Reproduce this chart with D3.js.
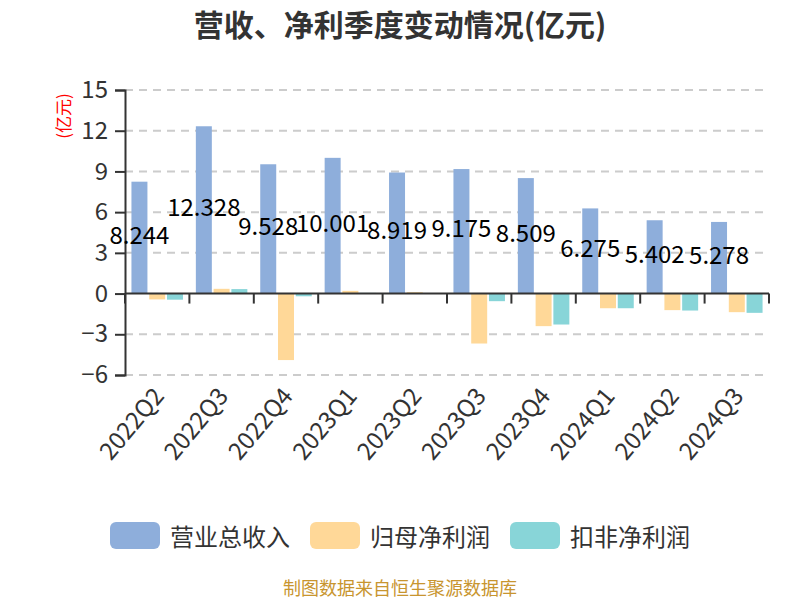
<!DOCTYPE html>
<html><head><meta charset="utf-8">
<script src="https://cdn.jsdelivr.net/npm/d3@7"></script>
<style>body{margin:0;background:#fff}svg{display:block}text{font-family:"Noto Sans CJK SC","Noto Sans",sans-serif}</style>
</head><body><svg id="c" width="800" height="600"></svg>
<script>
const categories = ["2022Q2","2022Q3","2022Q4","2023Q1","2023Q2","2023Q3","2023Q4","2024Q1","2024Q2","2024Q3"];
const revenue = [8.244,12.328,9.528,10.001,8.919,9.175,8.509,6.275,5.402,5.278];
const netProfit = [-0.43,0.35,-4.9,0.2,0.1,-3.68,-2.4,-1.08,-1.22,-1.37];
const deductedProfit = [-0.45,0.33,-0.2,0.05,0.02,-0.56,-2.28,-1.08,-1.25,-1.42];
const seriesNames = ["营业总收入","归母净利润","扣非净利润"];
const colors = ["#8eaedb","#ffd898","#88d5d8"];
const yTicks = [-6,-3,0,3,6,9,12,15];
const title = "营收、净利季度变动情况(亿元)";
const unitLabel = "(亿元)";
const source = "制图数据来自恒生聚源数据库";

const seriesValues = [revenue, netProfit, deductedProfit];
const svg = d3.select("#c");
const L = 125, R = 769, T = 90, B = 375;
const x = d3.scaleBand().domain(categories).range([L, R]).padding(0);
const x1 = d3.scaleBand().domain([0,1,2]).range([0, x.bandwidth()]).paddingInner(0.1).paddingOuter(0.363);
const y = d3.scaleLinear().domain([-6, 15]).range([B, T]);

// title
svg.append("text").attr("x", 400).attr("y", 23).attr("text-anchor","middle").attr("dominant-baseline","central")
  .attr("font-size", 30).attr("font-weight","bold").attr("fill","#333").text(title);

// grid
svg.append("g").selectAll("line").data(yTicks.filter(d=>d!==0)).join("line")
  .attr("x1", L).attr("x2", R).attr("y1", d=>y(d)).attr("y2", d=>y(d))
  .attr("stroke","#cccccc").attr("stroke-width",2).attr("stroke-dasharray","8,6");

// y axis
const yAxis = svg.append("g").attr("transform",`translate(${L},0)`)
  .call(d3.axisLeft(y).tickValues(yTicks).tickSize(10).tickPadding(7).tickFormat(d3.format("d")));
yAxis.select(".domain").attr("stroke","#333").attr("stroke-width",2);
yAxis.selectAll(".tick line").attr("stroke","#333").attr("stroke-width",2);
yAxis.selectAll(".tick text").attr("font-size",24).attr("fill","#333").attr("font-family",null);

// unit label
svg.append("text").attr("transform","translate(62,116) rotate(-90)").attr("text-anchor","middle")
  .attr("dominant-baseline","central").attr("font-size",17).attr("fill","#ff0000").text(unitLabel);

// bars
seriesValues.forEach((vals, si) => {
  svg.append("g").selectAll("rect").data(vals).join("rect")
    .attr("x", (d,i)=>x(categories[i]) + x1(si))
    .attr("width", x1.bandwidth())
    .attr("y", d=>y(Math.max(0,d)))
    .attr("height", d=>Math.abs(y(d)-y(0)))
    .attr("fill", colors[si]);
});

// x axis at zero
const xAxis = svg.append("g").attr("transform",`translate(0,${y(0)})`);
xAxis.append("line").attr("x1",L).attr("x2",R).attr("stroke","#333").attr("stroke-width",2);
xAxis.selectAll("line.tk").data(d3.range(categories.length+1)).join("line").attr("class","tk")
  .attr("x1", i=>L + i*x.step()).attr("x2", i=>L + i*x.step()).attr("y1",0).attr("y2",10)
  .attr("stroke","#333").attr("stroke-width",2);

// x labels
svg.append("g").selectAll("text").data(categories).join("text")
  .attr("transform", d=>`translate(${x(d)+x.bandwidth()/2},${B+15}) rotate(-50)`)
  .attr("text-anchor","end").attr("dominant-baseline","central")
  .attr("font-size",24).attr("fill","#333").text(d=>d);

// bar value labels (revenue)
svg.append("g").selectAll("text").data(revenue).join("text")
  .attr("x", (d,i)=>x(categories[i]) + x1(0) + x1.bandwidth()/2)
  .attr("y", d=>(y(d)+y(0))/2 + 6)
  .attr("text-anchor","middle")
  .attr("font-size",24).attr("fill","#000").text(d=>d3.format(".3f")(d));

// legend
const lx = [110, 310, 510];
const lg = svg.append("g");
seriesNames.forEach((n,i)=>{
  lg.append("rect").attr("x",lx[i]).attr("y",522).attr("width",50).attr("height",27).attr("rx",6).attr("fill",colors[i]);
  lg.append("text").attr("x",lx[i]+60).attr("y",535).attr("dominant-baseline","central")
    .attr("font-size",24).attr("fill","#333").text(n);
});

// source
svg.append("text").attr("x",400).attr("y",587).attr("text-anchor","middle").attr("dominant-baseline","central")
  .attr("font-size",18).attr("fill","#c8952f").text(source);
</script></body></html>
